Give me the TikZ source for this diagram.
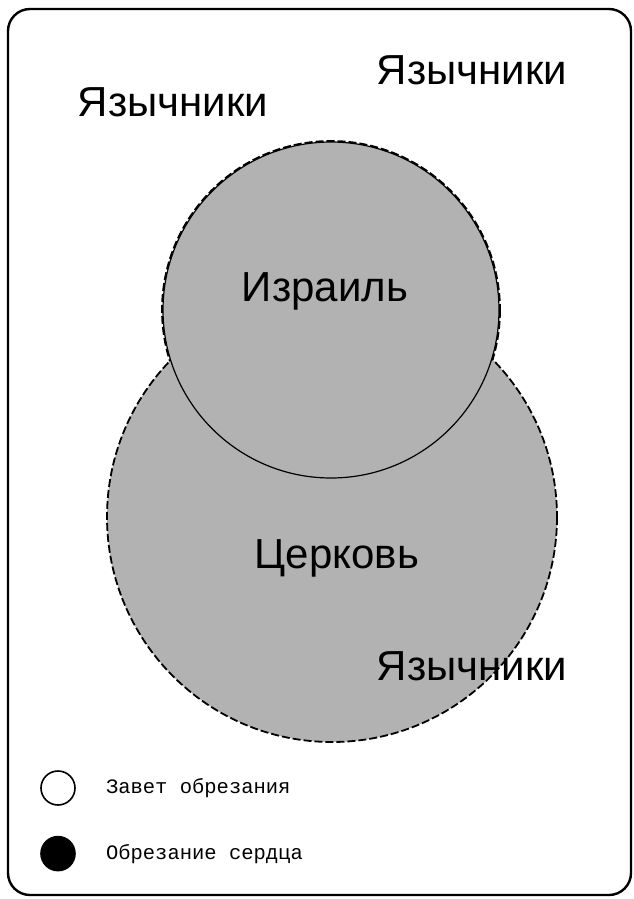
\documentclass[tikz,border=0pt]{standalone}
\usepackage{fontspec}
\setmainfont{Liberation Sans}
\newfontfamily\legendfont{Liberation Mono}
\usepackage{xcolor}
\usepackage{tikz}
\usetikzlibrary{positioning}

\begin{document}
\begin{tikzpicture}[
    x=1pt, y=-1pt,
    frame/.style={draw, line width=2.4pt, rounded corners=22pt},
    region/.style={fill=black!30},
    outline/.style={draw, line width=1.8pt, dash pattern=on 8pt off 3pt},
    rim/.style={draw, line width=1.2pt},
    heathen/.style={font=\fontsize{42}{42}\selectfont, inner sep=0pt},
    title/.style={font=\fontsize{42}{42}\selectfont, inner sep=0pt},
    key/.style={draw, line width=1.6pt, circle, minimum size=34pt, inner sep=0pt},
    keytext/.style={font=\legendfont\fontsize{20.5}{20.5}\selectfont, inner sep=0pt, anchor=west}
]
    \useasboundingbox (0,0) rectangle (634,899);
    \draw[frame] (8,9) rectangle (631,895);

    % church and israel
    \fill[region] (332,517) circle (225);
    \fill[region] (331,310) circle (168);
    \begin{scope}[even odd rule]
        \clip (0,0) rectangle (634,899) (331,310) circle (168);
        \path[outline] (332,517) circle (225);
    \end{scope}
    \begin{scope}[even odd rule]
        \clip (0,0) rectangle (634,899) (332,517) circle (225);
        \path[outline] (331,310) circle (169);
    \end{scope}
    \path[rim] (331,310) circle (168);

    \node[title] (israel) at (325,291) {Израиль};
    \node[title] (church) at (337,558) {Церковь};

    \node[heathen] (gentilesA) at (173,102) {Язычники};
    \node[heathen] (gentilesB) at (472,70) {Язычники};
    \node[heathen] (gentilesC) at (472,666) {Язычники};

    % legend
    \node[key] (covenant) at (58,788) {};
    \node[key, fill=black, below=30pt of covenant] (heart) {};
    \node[keytext, right=30pt of covenant] (covenanttext) {Завет обрезания};
    \node[keytext, right=30pt of heart] (hearttext) {Обрезание сердца};
\end{tikzpicture}
\end{document}
